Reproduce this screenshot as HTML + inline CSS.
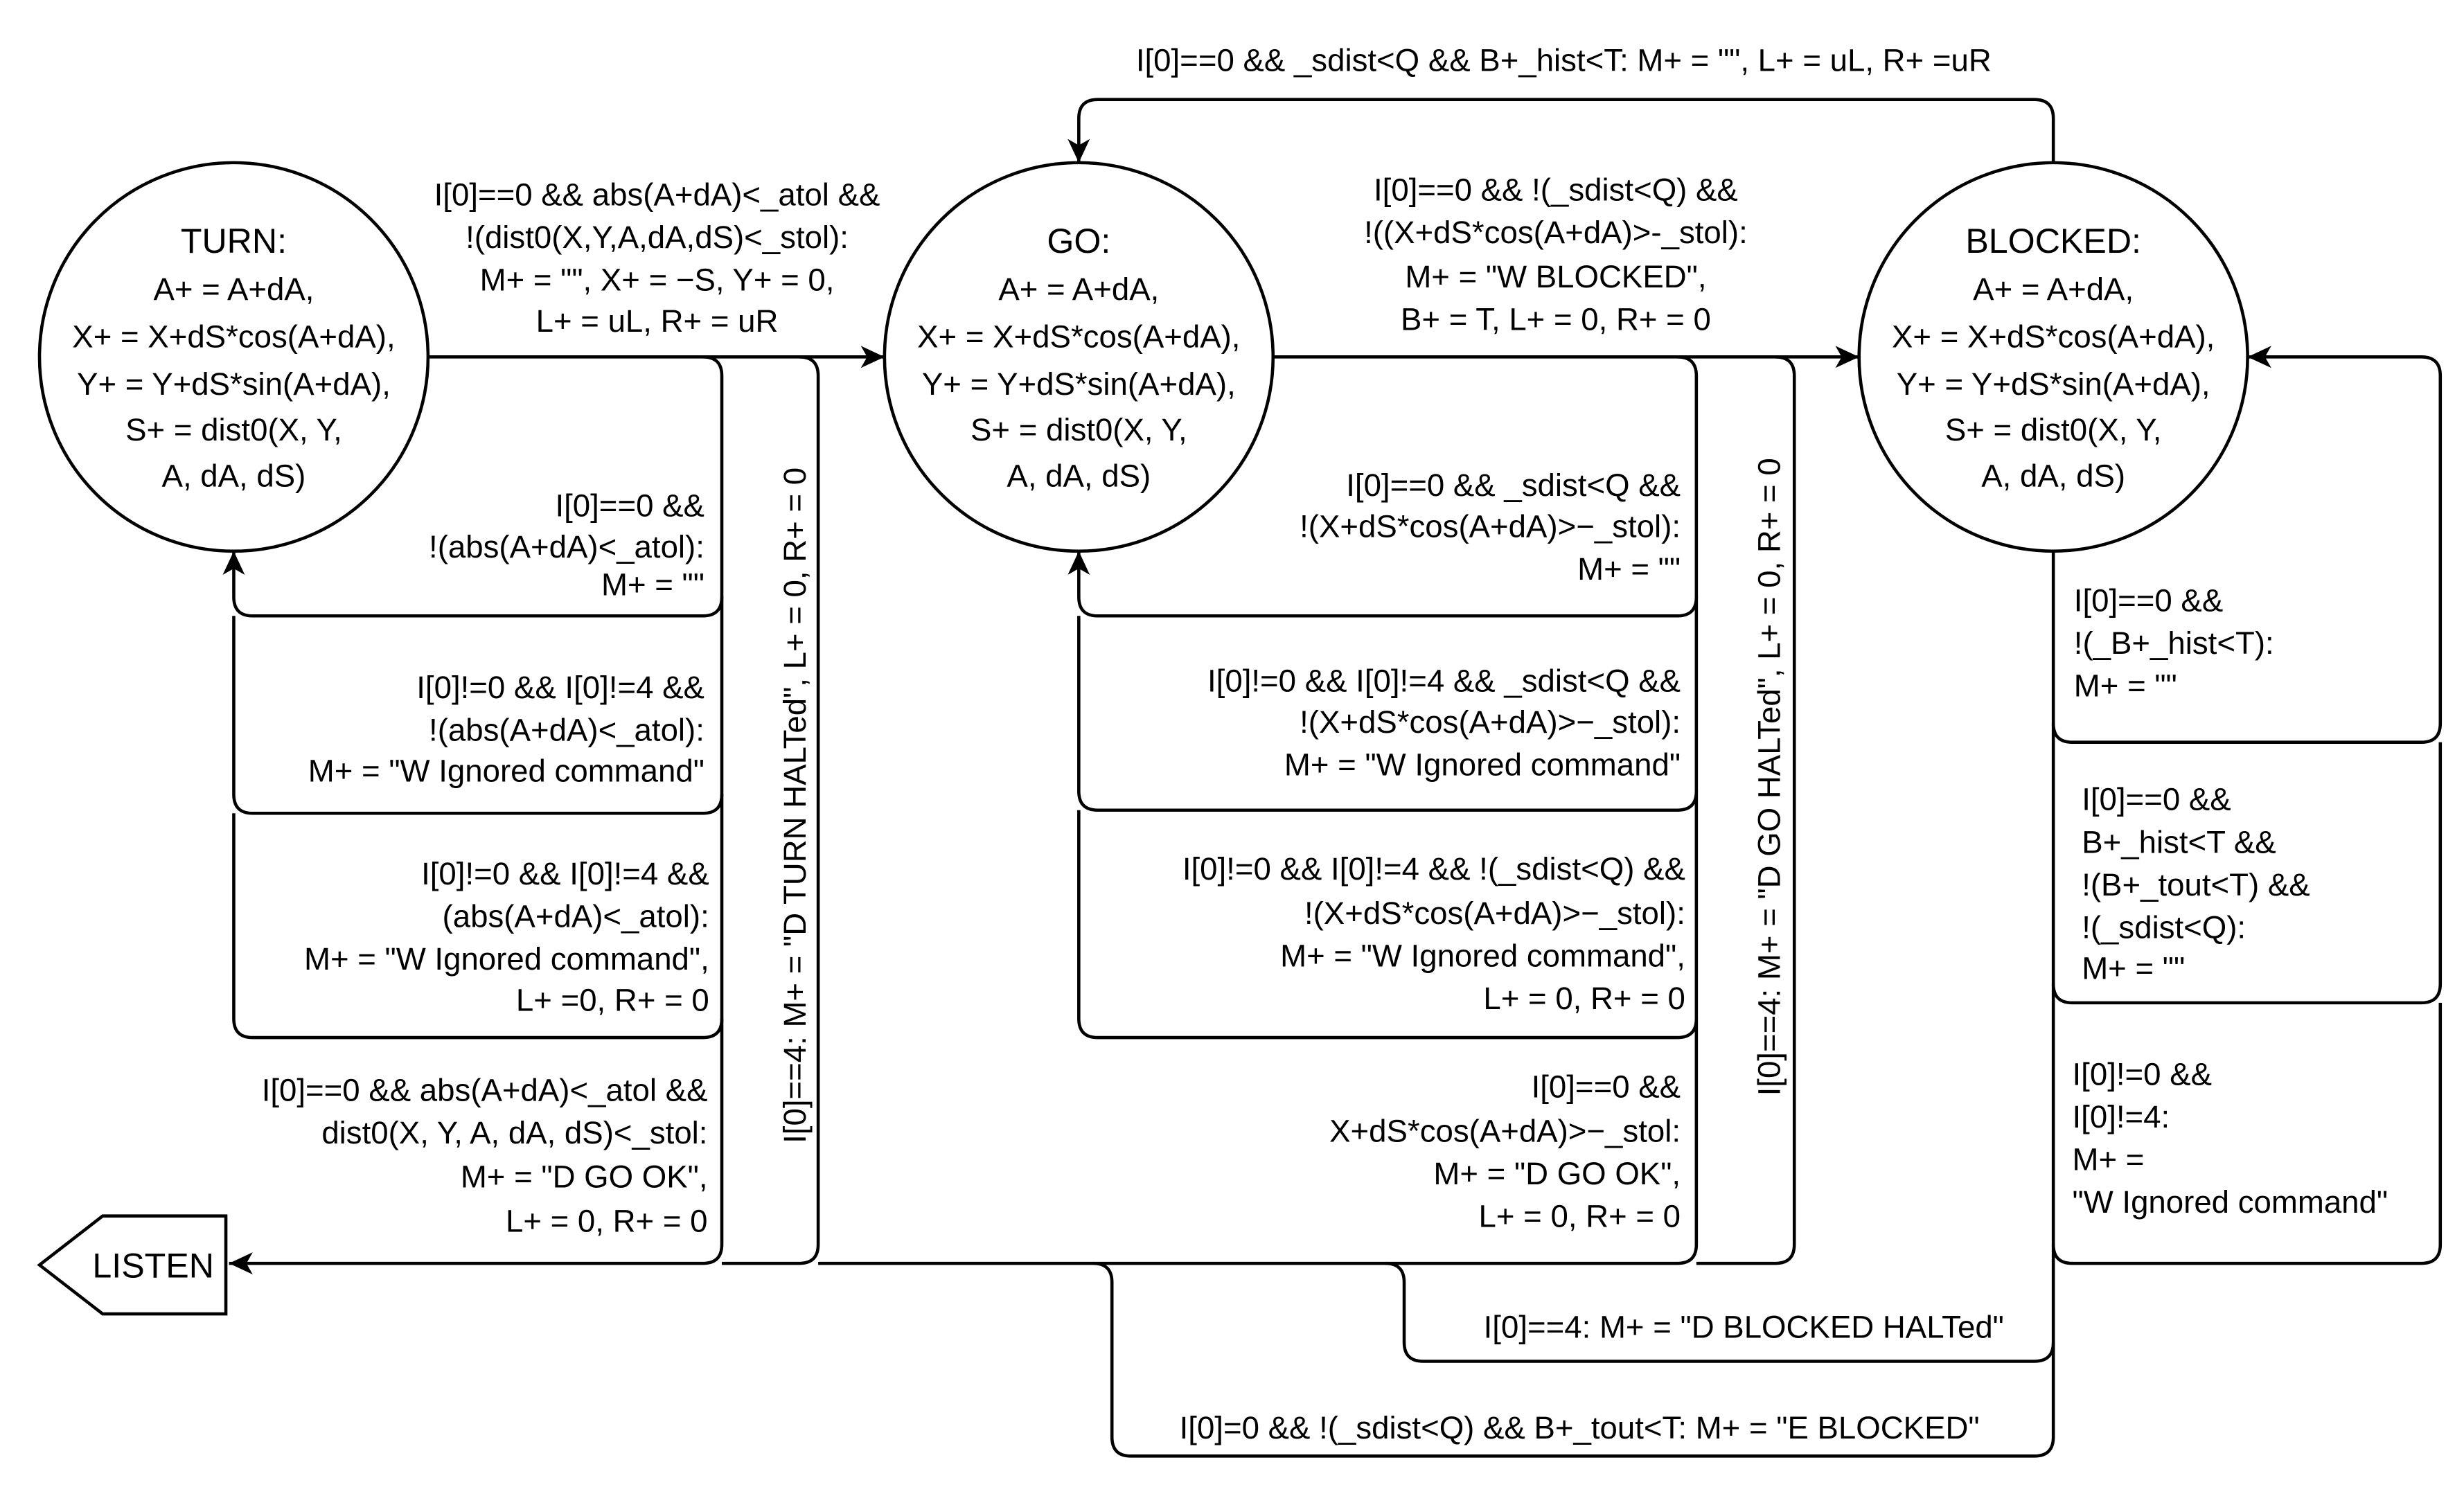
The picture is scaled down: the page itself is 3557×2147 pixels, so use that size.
<!DOCTYPE html>
<html><head><meta charset="utf-8"><style>
html,body{margin:0;padding:0;background:#fff;}
svg{display:block;}
text{font-family:"Liberation Sans",Arial,sans-serif;font-size:20px;fill:#000;}
</style></head><body>
<svg width="3557" height="2147" viewBox="0 0 1560 941.6" xmlns="http://www.w3.org/2000/svg">
<defs>
<marker id="a" markerUnits="userSpaceOnUse" markerWidth="16" markerHeight="14" refX="15" refY="7" orient="auto">
<path d="M0,0 L15,7 L0,14 L4,7 Z" fill="#000"/>
</marker>
</defs>
<g fill="none" stroke="#000" stroke-width="2">
<circle cx="148" cy="226" r="123"/>
<circle cx="683" cy="226" r="123"/>
<circle cx="1300" cy="226" r="123"/>
<polygon points="25,801 65,770 143,770 143,832 65,832"/>
<!-- TURN -> GO -->
<path d="M271 226 H560" marker-end="url(#a)"/>
<path d="M445 226 Q457 226 457 238 V788 Q457 800 445 800 H145" marker-end="url(#a)"/>
<path d="M506 226 Q518 226 518 238 V788 Q518 800 506 800 H457"/>
<path d="M457 378 Q457 390 445 390 H160 Q148 390 148 378 V349" marker-end="url(#a)"/>
<path d="M457 503 Q457 515 445 515 H160 Q148 515 148 503 V390"/>
<path d="M457 645 Q457 657 445 657 H160 Q148 657 148 645 V515"/>
<!-- GO -> BLOCKED -->
<path d="M806 226 H1177" marker-end="url(#a)"/>
<path d="M1062 226 Q1074 226 1074 238 V788 Q1074 800 1062 800 H518"/>
<path d="M1124 226 Q1136 226 1136 238 V788 Q1136 800 1124 800 H1074"/>
<path d="M1074 378 Q1074 390 1062 390 H695 Q683 390 683 378 V349" marker-end="url(#a)"/>
<path d="M1074 501 Q1074 513 1062 513 H695 Q683 513 683 501 V390"/>
<path d="M1074 645 Q1074 657 1062 657 H695 Q683 657 683 645 V513"/>
<!-- BLOCKED -->
<path d="M1300 103 V75 Q1300 63 1288 63 H695 Q683 63 683 75 V103" marker-end="url(#a)"/>
<path d="M1300 349 V910 Q1300 922 1288 922 H716 Q704 922 704 910 V812 Q704 800 692 800"/>
<path d="M1300 850 Q1300 862 1288 862 H901 Q889 862 889 850 V812 Q889 800 877 800"/>
<path d="M1300 458 Q1300 470 1312 470 H1533 Q1545 470 1545 458 V238 Q1545 226 1533 226 H1423" marker-end="url(#a)"/>
<path d="M1300 623 Q1300 635 1312 635 H1533 Q1545 635 1545 623 V470"/>
<path d="M1300 788 Q1300 800 1312 800 H1533 Q1545 800 1545 788 V635"/>
</g>
<text x="97" y="809" text-anchor="middle" style="font-size:22px">LISTEN</text>
<g text-anchor="middle">
<text x="148" y="160" style="font-size:22px">TURN:</text>
<text x="148" y="190">A+ = A+dA,</text>
<text x="148" y="220">X+ = X+dS*cos(A+dA),</text>
<text x="148" y="250">Y+ = Y+dS*sin(A+dA),</text>
<text x="148" y="279">S+ = dist0(X, Y,</text>
<text x="148" y="308">A, dA, dS)</text>
<text x="683" y="160" style="font-size:22px">GO:</text>
<text x="683" y="190">A+ = A+dA,</text>
<text x="683" y="220">X+ = X+dS*cos(A+dA),</text>
<text x="683" y="250">Y+ = Y+dS*sin(A+dA),</text>
<text x="683" y="279">S+ = dist0(X, Y,</text>
<text x="683" y="308">A, dA, dS)</text>
<text x="1300" y="160" style="font-size:22px">BLOCKED:</text>
<text x="1300" y="190">A+ = A+dA,</text>
<text x="1300" y="220">X+ = X+dS*cos(A+dA),</text>
<text x="1300" y="250">Y+ = Y+dS*sin(A+dA),</text>
<text x="1300" y="279">S+ = dist0(X, Y,</text>
<text x="1300" y="308">A, dA, dS)</text>
<text x="416" y="130">I[0]==0 &amp;&amp; abs(A+dA)&lt;_atol &amp;&amp;</text>
<text x="416" y="157">!(dist0(X,Y,A,dA,dS)&lt;_stol):</text>
<text x="416" y="184">M+ = "", X+ = −S, Y+ = 0,</text>
<text x="416" y="210">L+ = uL, R+ = uR</text>
<text x="985" y="127">I[0]==0 &amp;&amp; !(_sdist&lt;Q) &amp;&amp;</text>
<text x="985" y="154">!((X+dS*cos(A+dA)&gt;-_stol):</text>
<text x="985" y="182">M+ = "W BLOCKED",</text>
<text x="985" y="209">B+ = T, L+ = 0, R+ = 0</text>
<text x="990" y="45">I[0]==0 &amp;&amp; _sdist&lt;Q &amp;&amp; B+_hist&lt;T: M+ = "", L+ = uL, R+ =uR</text>
<text x="1104" y="847">I[0]==4: M+ = "D BLOCKED HALTed"</text>
<text x="1000" y="911">I[0]=0 &amp;&amp; !(_sdist&lt;Q) &amp;&amp; B+_tout&lt;T:  M+ = "E BLOCKED"</text>
<text transform="translate(510,510) rotate(-90)">I[0]==4: M+ = "D TURN HALTed", L+ = 0, R+ = 0</text>
<text transform="translate(1127,492) rotate(-90)">I[0]==4: M+ = "D GO HALTed", L+ = 0, R+ = 0</text>
</g>
<g text-anchor="end">
<text x="446" y="327">I[0]==0 &amp;&amp;</text>
<text x="446" y="353">!(abs(A+dA)&lt;_atol):</text>
<text x="446" y="377">M+ = ""</text>
<text x="446" y="442">I[0]!=0 &amp;&amp; I[0]!=4 &amp;&amp;</text>
<text x="446" y="469">!(abs(A+dA)&lt;_atol):</text>
<text x="446" y="495">M+ = "W Ignored command"</text>
<text x="449" y="560">I[0]!=0 &amp;&amp; I[0]!=4 &amp;&amp;</text>
<text x="449" y="587">(abs(A+dA)&lt;_atol):</text>
<text x="449" y="614">M+ = "W Ignored command",</text>
<text x="449" y="640">L+ =0, R+ = 0</text>
<text x="448" y="697">I[0]==0 &amp;&amp; abs(A+dA)&lt;_atol &amp;&amp;</text>
<text x="448" y="724">dist0(X, Y, A, dA, dS)&lt;_stol:</text>
<text x="448" y="752">M+ = "D GO OK",</text>
<text x="448" y="780">L+ = 0, R+ = 0</text>
<text x="1064" y="314">I[0]==0 &amp;&amp; _sdist&lt;Q &amp;&amp;</text>
<text x="1064" y="340">!(X+dS*cos(A+dA)&gt;−_stol):</text>
<text x="1064" y="367">M+ = ""</text>
<text x="1064" y="438">I[0]!=0 &amp;&amp; I[0]!=4  &amp;&amp; _sdist&lt;Q &amp;&amp;</text>
<text x="1064" y="464">!(X+dS*cos(A+dA)&gt;−_stol):</text>
<text x="1064" y="491">M+ = "W Ignored command"</text>
<text x="1067" y="557">I[0]!=0 &amp;&amp; I[0]!=4  &amp;&amp; !(_sdist&lt;Q) &amp;&amp;</text>
<text x="1067" y="585">!(X+dS*cos(A+dA)&gt;−_stol):</text>
<text x="1067" y="612">M+ = "W Ignored command",</text>
<text x="1067" y="639">L+ = 0, R+ = 0</text>
<text x="1064" y="695">I[0]==0 &amp;&amp;</text>
<text x="1064" y="723">X+dS*cos(A+dA)&gt;−_stol:</text>
<text x="1064" y="750">M+ = "D GO OK",</text>
<text x="1064" y="777">L+ = 0, R+ = 0</text>
</g>
<g>
<text x="1313" y="387">I[0]==0 &amp;&amp;</text>
<text x="1313" y="414">!(_B+_hist&lt;T):</text>
<text x="1313" y="441">M+ = ""</text>
<text x="1318" y="513">I[0]==0 &amp;&amp;</text>
<text x="1318" y="540">B+_hist&lt;T &amp;&amp;</text>
<text x="1318" y="567">!(B+_tout&lt;T) &amp;&amp;</text>
<text x="1318" y="594">!(_sdist&lt;Q):</text>
<text x="1318" y="620">M+ = ""</text>
<text x="1312" y="687">I[0]!=0 &amp;&amp;</text>
<text x="1312" y="714">I[0]!=4:</text>
<text x="1312" y="741">M+ =</text>
<text x="1312" y="768">"W Ignored command"</text>
</g>
</svg>
</body></html>
